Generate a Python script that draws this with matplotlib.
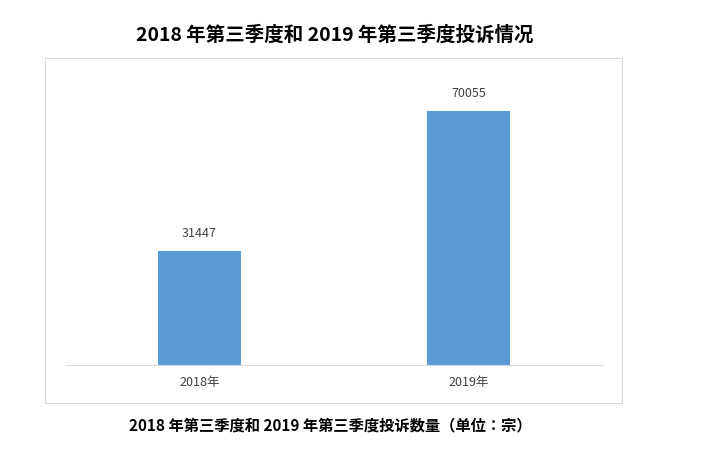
import matplotlib.pyplot as plt
from matplotlib.patches import Rectangle

# several names so that whichever face of the CJK collection is registered gets used
plt.rcParams['font.family'] = ['Noto Sans CJK SC', 'Noto Sans CJK JP',
                               'Noto Sans CJK TC', 'Noto Sans CJK KR', 'DejaVu Sans']

categories = ['2018年', '2019年']
values = [31447, 70055]

fig = plt.figure(figsize=(7.05, 4.59), dpi=100)
W, H = 705, 459

# outer chart frame
fig.patches.append(Rectangle((45 / W, 1 - 403 / H), 577 / W, 345 / H,
                             transform=fig.transFigure, fill=False,
                             edgecolor='#d9d9d9', linewidth=0.8))

ax = fig.add_axes([65 / W, 1 - 365 / H, 538 / W, 290 / H])
x = range(len(categories))
bars = ax.bar(x, values, width=0.31, color='#5b9bd5')
for b, v in zip(bars, values):
    ax.text(b.get_x() + b.get_width() / 2, v + 3000, str(v),
            ha='center', va='bottom', fontsize=9, color='#404040')

ax.set_xlim(-0.5, 1.5)
ax.set_ylim(0, 80000)
ax.set_xticks(list(x))
ax.set_xticklabels(categories, fontsize=9, color='#404040')
ax.set_yticks([])
for s in ['top', 'left', 'right']:
    ax.spines[s].set_visible(False)
ax.spines['bottom'].set_color('#d9d9d9')
ax.tick_params(axis='x', length=0, pad=8)

fig.text(335 / W, 1 - 35 / H, '2018 年第三季度和 2019 年第三季度投诉情况',
         ha='center', va='center', fontsize=14, fontweight='bold')
fig.text(330 / W, 1 - 425 / H, '2018 年第三季度和 2019 年第三季度投诉数量（单位：宗）',
         ha='center', va='center', fontsize=11, fontweight='bold')

fig.savefig('out.png', dpi=100)
